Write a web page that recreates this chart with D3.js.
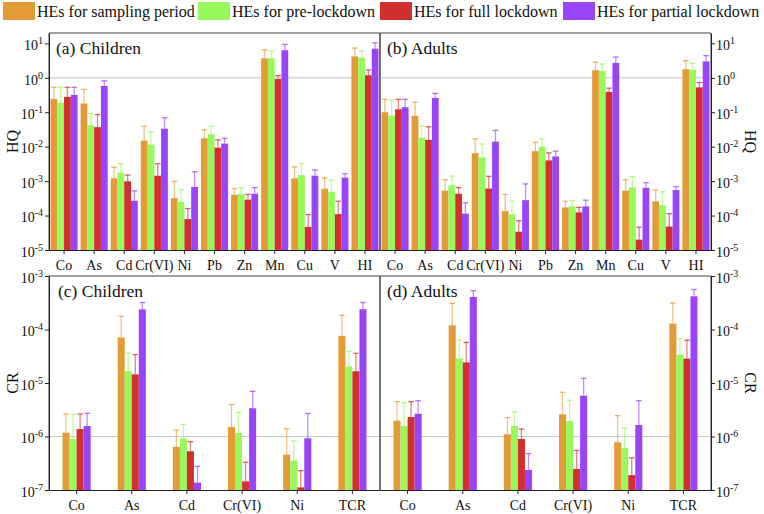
<!DOCTYPE html>
<html><head><meta charset="utf-8">
<script src="https://cdn.jsdelivr.net/npm/d3@7"></script>
<style>body{margin:0;background:#fff}svg{display:block;font-family:"Liberation Serif","Times New Roman",serif}</style>
</head><body><svg id="c" width="764" height="514" font-family="Liberation Serif, Times New Roman, serif"></svg>
<script>
const seriesNames = ["HEs for sampling period","HEs for pre-lockdown","HEs for full lockdown","HEs for partial lockdown"];
const seriesColors = ["#E39B37","#97F95C","#D22F2F","#9944F6"];
const hqCategories = ["Co","As","Cd","Cr(VI)","Ni","Pb","Zn","Mn","Cu","V","HI"];
const crCategories = ["Co","As","Cd","Cr(VI)","Ni","TCR"];
const hqTicks = [1e-5,1e-4,1e-3,1e-2,1e-1,1,10];
const crTicks = [1e-7,1e-6,1e-5,1e-4,1e-3];

// (a) Children HQ: mean, upper error
const hqChildSampling = [0.243,0.18,1.21e-3,0.015,3.2e-4,0.0175,4.0e-4,3.68,1.21e-3,6.0e-4,4.2];
const hqChildSamplingErr = [0.53,0.46,2.5e-3,0.039,9.9e-4,0.031,6.1e-4,6.5,2.6e-3,1.24e-3,7.3];
const hqChildPre = [0.187,0.042,1.76e-3,0.0115,2.5e-4,0.0229,4.27e-4,3.7,1.5e-3,4.9e-4,3.85];
const hqChildPreErr = [0.53,0.092,3.2e-3,0.0267,5.7e-4,0.0397,6.4e-4,6.0,3.2e-3,1.07e-3,6.0];
const hqChildFull = [0.28,0.037,9.9e-4,1.44e-3,7.9e-5,9.4e-3,2.9e-4,0.92,4.7e-5,1.1e-4,1.19];
const hqChildFullErr = [0.53,0.086,1.5e-3,3.2e-3,1.6e-4,0.0158,4.1e-4,1.17,1.07e-4,2.6e-4,1.7];
const hqChildPartial = [0.32,0.58,2.7e-4,0.0333,6.8e-4,0.0123,4.3e-4,6.3,1.44e-3,1.26e-3,7.0];
const hqChildPartialErr = [0.53,0.82,5.2e-4,0.069,1.87e-3,0.0175,6.5e-4,9.3,2.1e-3,1.64e-3,10.4];

// (b) Adults HQ
const hqAdultSampling = [0.1,0.079,5.3e-4,6.5e-3,1.35e-4,7.4e-3,1.73e-4,1.66,5.3e-4,2.6e-4,1.78];
const hqAdultSamplingErr = [0.238,0.195,1.1e-3,0.0168,4.1e-4,0.0134,2.6e-4,2.83,1.1e-3,5.5e-4,3.15];
const hqAdultPre = [0.08,0.018,7.6e-4,4.9e-3,1.09e-4,0.01,1.85e-4,1.59,6.6e-4,2.0e-4,1.7];
const hqAdultPreErr = [0.227,0.04,1.4e-3,0.012,2.6e-4,0.0168,2.75e-4,2.53,1.35e-3,4.9e-4,2.7];
const hqAdultFull = [0.122,0.0158,4.3e-4,6.1e-4,3.4e-5,4.0e-3,1.24e-4,0.39,2.0e-5,4.8e-5,0.53];
const hqAdultFullErr = [0.238,0.038,6.5e-4,1.38e-3,7.1e-5,6.6e-3,1.73e-4,0.5,4.6e-5,1.14e-4,0.73];
const hqAdultPartial = [0.14,0.26,1.14e-4,0.014,2.8e-4,5.2e-3,1.85e-4,2.7,6.4e-4,5.5e-4,3.0];
const hqAdultPartialErr = [0.238,0.354,2.35e-4,0.0298,8.3e-4,7.4e-3,2.8e-4,4.0,9.0e-4,6.9e-4,4.4];

// (c) Children CR
const crChildSampling = [1.18e-6,7.1e-5,6.4e-7,1.5e-6,4.6e-7,7.6e-5];
const crChildSamplingErr = [2.63e-6,1.76e-4,1.32e-6,3.94e-6,1.4e-6,1.84e-4];
const crChildPre = [9.0e-7,1.67e-5,9.2e-7,1.16e-6,3.55e-7,2.02e-5];
const crChildPreErr = [2.6e-6,3.6e-5,1.68e-6,2.83e-6,8.3e-7,3.9e-5];
const crChildFull = [1.38e-6,1.45e-5,5.3e-7,1.45e-7,1.12e-7,1.66e-5];
const crChildFullErr = [2.63e-6,3.4e-5,8.0e-7,3.3e-7,2.3e-7,3.6e-5];
const crChildPartial = [1.57e-6,2.38e-4,1.37e-7,3.37e-6,9.3e-7,2.4e-4];
const crChildPartialErr = [2.71e-6,3.2e-4,2.77e-7,6.98e-6,2.7e-6,3.2e-4];

// (d) Adults CR
const crAdultSampling = [1.98e-6,1.2e-4,1.1e-6,2.6e-6,7.8e-7,1.29e-4];
const crAdultSamplingErr = [4.48e-6,3.08e-4,2.25e-6,6.7e-6,2.45e-6,3.13e-4];
const crAdultPre = [1.57e-6,2.88e-5,1.57e-6,1.95e-6,6.1e-7,3.4e-5];
const crAdultPreErr = [4.28e-6,6.3e-5,2.9e-6,4.74e-6,1.42e-6,6.7e-5];
const crAdultFull = [2.31e-6,2.43e-5,9.0e-7,2.47e-7,1.9e-7,2.85e-5];
const crAdultFullErr = [4.48e-6,5.75e-5,1.38e-6,5.5e-7,4.0e-7,6.3e-5];
const crAdultPartial = [2.67e-6,4.06e-4,2.37e-7,5.8e-6,1.64e-6,4.17e-4];
const crAdultPartialErr = [4.67e-6,5.3e-4,4.8e-7,1.22e-5,4.67e-6,5.6e-4];

const svg = d3.select("#c");
const FONT = '"Liberation Serif","Times New Roman",serif';

// legend
const legX = [3,198,380,563];
seriesNames.forEach((n,i)=>{
  svg.append("rect").attr("x",legX[i]).attr("y",2).attr("width",32).attr("height",18).attr("fill",seriesColors[i]);
  svg.append("text").attr("x",legX[i]+34).attr("y",17).attr("font-size",16).attr("font-family",FONT).attr("fill","#111").text(n);
});

function supLabel(sel, v){
  const e = Math.round(Math.log10(v));
  sel.text(null);
  sel.append("tspan").text("10");
  sel.append("tspan").attr("dy",-6).attr("font-size",10).text(e);
}

const panels = [
  {cats:hqCategories, x0:49, x1:380, yTop:33, yBot:250, dom:[1e-5,20], ticks:hqTicks, ref:1, side:"left",
   title:"(a) Children", tx:56, ty:54, axisTitle:"HQ", groupFrac:[0.05,0.95],
   vals:[hqChildSampling,hqChildPre,hqChildFull,hqChildPartial], errs:[hqChildSamplingErr,hqChildPreErr,hqChildFullErr,hqChildPartialErr]},
  {cats:hqCategories, x0:380, x1:711, yTop:33, yBot:250, dom:[1e-5,20], ticks:hqTicks, ref:1, side:"right",
   title:"(b) Adults", tx:387, ty:54, axisTitle:"HQ", groupFrac:[0.05,0.95],
   vals:[hqAdultSampling,hqAdultPre,hqAdultFull,hqAdultPartial], errs:[hqAdultSamplingErr,hqAdultPreErr,hqAdultFullErr,hqAdultPartialErr]},
  {cats:crCategories, x0:49, x1:380, yTop:276, yBot:490, dom:[1e-7,1e-3], ticks:crTicks, ref:1e-6, side:"left",
   title:"(c) Children", tx:58, ty:297, axisTitle:"CR", groupFrac:[0.245,0.755],
   vals:[crChildSampling,crChildPre,crChildFull,crChildPartial], errs:[crChildSamplingErr,crChildPreErr,crChildFullErr,crChildPartialErr]},
  {cats:crCategories, x0:380, x1:711, yTop:276, yBot:490, dom:[1e-7,1e-3], ticks:crTicks, ref:1e-6, side:"right",
   title:"(d) Adults", tx:387, ty:297, axisTitle:"CR", groupFrac:[0.245,0.755],
   vals:[crAdultSampling,crAdultPre,crAdultFull,crAdultPartial], errs:[crAdultSamplingErr,crAdultPreErr,crAdultFullErr,crAdultPartialErr]},
];

panels.forEach(p=>{
  const g = svg.append("g");
  const x = d3.scaleBand().domain(p.cats).range([p.x0,p.x1]).padding(0);
  const bw = x.bandwidth();
  const xs = d3.scaleBand().domain(d3.range(4)).range([bw*p.groupFrac[0], bw*p.groupFrac[1]]).padding(0);
  const y = d3.scaleLog().domain(p.dom).range([p.yBot,p.yTop]);

  // reference line
  g.append("line").attr("x1",p.x0).attr("x2",p.x1).attr("y1",y(p.ref)).attr("y2",y(p.ref))
    .attr("stroke", p.ref===1?"#dcdcdc":"#c8c8c8").attr("stroke-width", p.ref===1?2:1);

  for(let s=0;s<4;s++){
    const col = seriesColors[s];
    const sg = g.append("g");
    const data = p.cats.map((c,i)=>({c, v:p.vals[s][i], e:p.errs[s][i]}));
    sg.selectAll("line.eb").data(data).join("line").attr("class","eb")
      .attr("x1",d=>x(d.c)+xs(s)+xs.bandwidth()/2).attr("x2",d=>x(d.c)+xs(s)+xs.bandwidth()/2)
      .attr("y1",d=>y(d.v)).attr("y2",d=>y(d.e)).attr("stroke",col).attr("stroke-opacity",0.6).attr("stroke-width",1.3);
    sg.selectAll("line.cap").data(data).join("line").attr("class","cap")
      .attr("x1",d=>x(d.c)+xs(s)+xs.bandwidth()/2-2.8).attr("x2",d=>x(d.c)+xs(s)+xs.bandwidth()/2+2.8)
      .attr("y1",d=>y(d.e)).attr("y2",d=>y(d.e)).attr("stroke",col).attr("stroke-opacity",0.75).attr("stroke-width",1.3);
    sg.selectAll("rect").data(data).join("rect")
      .attr("x",d=>x(d.c)+xs(s)).attr("width",xs.bandwidth())
      .attr("y",d=>y(d.v)).attr("height",d=>p.yBot-y(d.v)).attr("fill",col);
  }

  // frame
  g.append("line").attr("x1",p.x0).attr("x2",p.x1).attr("y1",p.yTop).attr("y2",p.yTop).attr("stroke","#444").attr("stroke-width",1);
  g.append("line").attr("x1",p.x0).attr("x2",p.x0).attr("y1",p.yTop).attr("y2",p.yBot).attr("stroke","#444").attr("stroke-width",1);
  g.append("line").attr("x1",p.x1).attr("x2",p.x1).attr("y1",p.yTop).attr("y2",p.yBot).attr("stroke","#444").attr("stroke-width",1);

  // x axis
  const xa = g.append("g").attr("transform",`translate(0,${p.yBot})`)
    .call(d3.axisBottom(x).tickSize(4).tickSizeOuter(0));
  xa.attr("font-family",FONT);
  xa.select(".domain").attr("stroke","#222");
  xa.selectAll(".tick line").attr("stroke","#222");
  xa.selectAll(".tick text").attr("font-size",14).attr("font-family",FONT).attr("fill","#111").attr("dy","0.9em");

  // y axis
  if(p.side==="left"){
    const ya = g.append("g").attr("transform",`translate(${p.x0},0)`)
      .call(d3.axisLeft(y).tickValues(p.ticks).tickSize(4).tickSizeOuter(0).tickFormat(""));
    ya.attr("font-family",FONT);
    ya.select(".domain").attr("stroke","#222");
    ya.selectAll(".tick line").attr("stroke","#222");
    ya.selectAll(".tick text").attr("font-size",14).attr("font-family",FONT).attr("fill","#111").attr("x",-6).attr("dy","0.45em")
      .each(function(d){ supLabel(d3.select(this), d); });
    svg.append("text").attr("transform",`translate(18,${(p.yTop+p.yBot)/2}) rotate(-90)`).attr("text-anchor","middle")
      .attr("font-size",16).attr("font-family",FONT).attr("fill","#111").text(p.axisTitle);
  } else {
    const ya = g.append("g").attr("transform",`translate(${p.x1},0)`)
      .call(d3.axisRight(y).tickValues(p.ticks).tickSize(4).tickSizeOuter(0).tickFormat(""));
    ya.attr("font-family",FONT);
    ya.select(".domain").attr("stroke","#222");
    ya.selectAll(".tick line").attr("stroke","#222");
    ya.selectAll(".tick text").attr("font-size",14).attr("font-family",FONT).attr("fill","#111").attr("x",5).attr("dy","0.45em")
      .each(function(d){ supLabel(d3.select(this), d); });
    svg.append("text").attr("transform",`translate(745,${(p.yTop+p.yBot)/2}) rotate(90)`).attr("text-anchor","middle")
      .attr("font-size",16).attr("font-family",FONT).attr("fill","#111").text(p.axisTitle);
  }

  g.append("text").attr("x",p.tx).attr("y",p.ty).attr("font-size",17.5).attr("font-family",FONT).attr("fill","#111").text(p.title);
});
</script></body></html>
